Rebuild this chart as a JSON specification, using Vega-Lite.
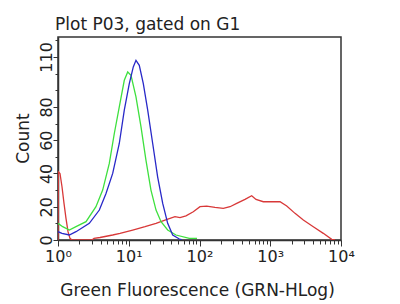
{
  "$schema": "https://vega.github.io/schema/vega-lite/v6.json",
  "width": 283,
  "height": 203,
  "autosize": {"type": "none"},
  "padding": {"left": 58, "top": 37, "right": 59, "bottom": 64},
  "background": "white",
  "config": {
    "font": "DejaVu Sans",
    "view": {"stroke": "#333333", "strokeWidth": 1.5}
  },
  "title": {
    "text": "Plot P03, gated on G1",
    "anchor": "start",
    "frame": "group",
    "fontSize": 17,
    "fontWeight": "normal",
    "color": "#222222",
    "font": "DejaVu Sans",
    "baseline": "bottom",
    "offset": 3,
    "dx": -3,
    "dy": 17
  },
  "data": {
    "values": [
      {"s": "red", "x": 1, "y": 0},
      {"s": "red", "x": 1.01, "y": 41},
      {"s": "red", "x": 1.067, "y": 40},
      {"s": "red", "x": 1.139, "y": 32},
      {"s": "red", "x": 1.216, "y": 22},
      {"s": "red", "x": 1.297, "y": 13},
      {"s": "red", "x": 1.385, "y": 5},
      {"s": "red", "x": 1.477, "y": 1},
      {"s": "red", "x": 1.577, "y": 0},
      {"s": "red", "x": 3.02, "y": 0},
      {"s": "red", "x": 3.23, "y": 1},
      {"s": "red", "x": 3.92, "y": 1.5},
      {"s": "red", "x": 5.93, "y": 3},
      {"s": "red", "x": 7.52, "y": 4},
      {"s": "red", "x": 11.37, "y": 6},
      {"s": "red", "x": 16.98, "y": 8},
      {"s": "red", "x": 24.3, "y": 10},
      {"s": "red", "x": 32.5, "y": 12},
      {"s": "red", "x": 45, "y": 14},
      {"s": "red", "x": 53, "y": 13.5},
      {"s": "red", "x": 64.4, "y": 14.5},
      {"s": "red", "x": 81.7, "y": 17},
      {"s": "red", "x": 101.6, "y": 20},
      {"s": "red", "x": 126.4, "y": 20.4},
      {"s": "red", "x": 165.6, "y": 19.6},
      {"s": "red", "x": 217, "y": 19},
      {"s": "red", "x": 270, "y": 20},
      {"s": "red", "x": 335.6, "y": 22},
      {"s": "red", "x": 439.7, "y": 24.4},
      {"s": "red", "x": 546.6, "y": 26.6},
      {"s": "red", "x": 629, "y": 24.4},
      {"s": "red", "x": 798, "y": 23},
      {"s": "red", "x": 1374, "y": 23},
      {"s": "red", "x": 1710, "y": 20.4},
      {"s": "red", "x": 2239, "y": 16},
      {"s": "red", "x": 2934, "y": 12},
      {"s": "red", "x": 4058, "y": 8},
      {"s": "red", "x": 5623, "y": 4},
      {"s": "red", "x": 7393, "y": 0.4},
      {"s": "red", "x": 8225, "y": 0},
      {"s": "green", "x": 1, "y": 10},
      {"s": "green", "x": 1.165, "y": 8},
      {"s": "green", "x": 1.445, "y": 6},
      {"s": "green", "x": 1.796, "y": 8},
      {"s": "green", "x": 2.49, "y": 11},
      {"s": "green", "x": 3.44, "y": 20},
      {"s": "green", "x": 4.28, "y": 30},
      {"s": "green", "x": 5.31, "y": 46},
      {"s": "green", "x": 6.25, "y": 64},
      {"s": "green", "x": 7.35, "y": 80},
      {"s": "green", "x": 8.65, "y": 96},
      {"s": "green", "x": 9.67, "y": 101},
      {"s": "green", "x": 10.76, "y": 99},
      {"s": "green", "x": 12.65, "y": 86},
      {"s": "green", "x": 14.9, "y": 68},
      {"s": "green", "x": 17.5, "y": 48},
      {"s": "green", "x": 20.6, "y": 30},
      {"s": "green", "x": 24.3, "y": 18},
      {"s": "green", "x": 28.6, "y": 11},
      {"s": "green", "x": 35.5, "y": 6},
      {"s": "green", "x": 46.5, "y": 3},
      {"s": "green", "x": 71.8, "y": 1},
      {"s": "green", "x": 92.2, "y": 1},
      {"s": "blue", "x": 1, "y": 5},
      {"s": "blue", "x": 1.139, "y": 4},
      {"s": "blue", "x": 1.445, "y": 3},
      {"s": "blue", "x": 1.796, "y": 5},
      {"s": "blue", "x": 2.77, "y": 10},
      {"s": "blue", "x": 3.84, "y": 18},
      {"s": "blue", "x": 4.77, "y": 28},
      {"s": "blue", "x": 5.93, "y": 40},
      {"s": "blue", "x": 7.35, "y": 58},
      {"s": "blue", "x": 8.65, "y": 78},
      {"s": "blue", "x": 10.18, "y": 94},
      {"s": "blue", "x": 11.59, "y": 104},
      {"s": "blue", "x": 12.65, "y": 108},
      {"s": "blue", "x": 14.09, "y": 105},
      {"s": "blue", "x": 16.06, "y": 94},
      {"s": "blue", "x": 18.53, "y": 78},
      {"s": "blue", "x": 21.8, "y": 58},
      {"s": "blue", "x": 25.6, "y": 38},
      {"s": "blue", "x": 30.2, "y": 22},
      {"s": "blue", "x": 35.5, "y": 10},
      {"s": "blue", "x": 41.8, "y": 3},
      {"s": "blue", "x": 51.9, "y": 0.6},
      {"s": "blue", "x": 56, "y": 0.2}
    ]
  },
  "mark": {"type": "line", "strokeWidth": 1.3, "clip": true},
  "encoding": {
    "x": {
      "field": "x",
      "type": "quantitative",
      "scale": {"type": "log", "domain": [1, 10000], "nice": false},
      "axis": {
        "orient": "bottom",
        "values": [1,2,3,4,5,6,7,8,9,10,20,30,40,50,60,70,80,90,100,200,300,400,500,600,700,800,900,1000,2000,3000,4000,5000,6000,7000,8000,9000,10000],
        "labelExpr": "datum.value==1?'10⁰':datum.value==10?'10¹':datum.value==100?'10²':datum.value==1000?'10³':datum.value==10000?'10⁴':''",
        "labelFontSize": 16,
        "labelColor": "#222222",
        "labelPadding": 2,
        "labelOverlap": false,
        "labelBound": false,
        "labelFlush": false,
        "grid": false,
        "domainColor": "#333333",
        "domainWidth": 1.5,
        "tickColor": "#333333",
        "tickSize": {"condition": {"test": "abs(log(datum.value)/LN10 - round(log(datum.value)/LN10)) < 0.000001", "value": 6}, "value": 4},
        "title": "Green Fluorescence (GRN-HLog)",
        "titleFontSize": 17,
        "titleFontWeight": "normal",
        "titleColor": "#222222",
        "titleAlign": "center",
        "titleBaseline": "alphabetic",
        "titleX": 139,
        "titleY": 55
      }
    },
    "y": {
      "field": "y",
      "type": "quantitative",
      "scale": {"domain": [0, 122], "nice": false, "zero": true},
      "axis": {
        "values": [0,10,20,30,40,50,60,70,80,90,100,110,120],
        "labelExpr": "(datum.value==110 || (datum.value<=80 && datum.value%20==0)) ? datum.label : ''",
        "labelAngle": -90,
        "labelAlign": "center",
        "labelBaseline": "alphabetic",
        "labelFontSize": 16,
        "labelColor": "#222222",
        "labelPadding": 2,
        "labelOverlap": false,
        "labelBound": false,
        "labelFlush": false,
        "grid": false,
        "domainColor": "#333333",
        "domainWidth": 1.5,
        "tickColor": "#333333",
        "tickSize": {"condition": {"test": "datum.value==110 || (datum.value<=80 && datum.value%20==0)", "value": 5}, "value": 3},
        "title": "Count",
        "titleFontSize": 17,
        "titleFontWeight": "normal",
        "titleColor": "#222222",
        "titleAngle": -90,
        "titleAlign": "center",
        "titleBaseline": "alphabetic",
        "titleX": -30,
        "titleY": 101
      }
    },
    "color": {
      "field": "s",
      "type": "nominal",
      "scale": {"domain": ["red", "green", "blue"], "range": ["#d83838", "#3ee03e", "#2828c8"]},
      "legend": null
    }
  }
}
